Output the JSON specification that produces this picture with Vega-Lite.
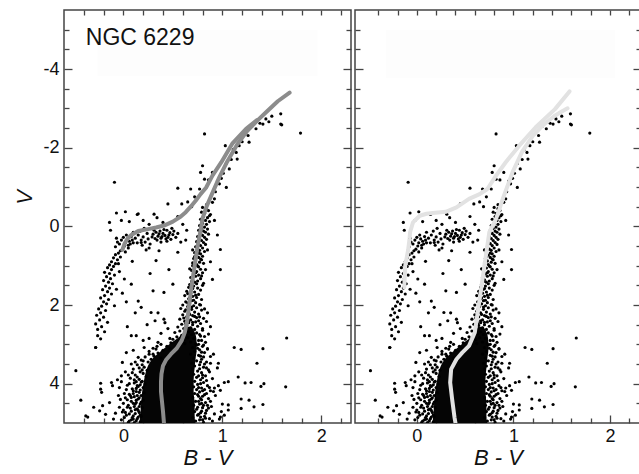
{
"$schema": "https://vega.github.io/schema/vega-lite/v6.json",
"padding": {"left": 12, "top": 8, "right": 0, "bottom": 0},
"background": "white",
"spacing": 0,
"config": {
  "view": {"stroke": "#444", "strokeWidth": 1.5},
  "font": "Liberation Sans",
  "axis": {"grid": false, "domain": false, "tickColor": "#444", "tickWidth": 1.3, "labelFont": "Liberation Sans", "titleFont": "Liberation Sans", "labelColor": "#111", "titleColor": "#111", "titleFontWeight": "normal"}
},
"datasets": {
  "stars": [
    {"c":1.44,"v":-2.73},{"c":1.59,"v":-2.86},{"c":1.6,"v":-2.58},{"c":1.79,"v":-2.37},{"c":0.82,"v":-2.35},{"c":1.34,"v":-2.48},{"c":1.26,"v":-2.31},{"c":1.3,"v":-2.55},{"c":1.38,"v":-2.62},{"c":1.5,"v":-2.8},{"c":1.47,"v":-2.66},{"c":1.17,"v":-2.05},{"c":1.14,"v":-1.88},{"c":1.2,"v":-2.15},{"c":1.11,"v":-1.95},{"c":1.07,"v":-1.46},{"c":1.04,"v":-1.6},{"c":1.09,"v":-1.7},{"c":1.15,"v":-1.71},{"c":1.27,"v":-2.14},{"c":1.03,"v":-2.05},{"c":0.97,"v":-1.08},{"c":0.99,"v":-1.22},{"c":0.95,"v":-1.15},{"c":1.04,"v":-0.99},{"c":0.9,"v":-0.61},{"c":0.87,"v":-0.27},{"c":0.9,"v":-1.37},{"c":0.86,"v":-1.18},{"c":0.8,"v":-1.54},{"c":0.78,"v":-1.37},{"c":0.82,"v":-1.2},{"c":0.77,"v":-0.95},{"c":0.68,"v":-0.95},{"c":0.72,"v":-0.75},{"c":0.55,"v":-0.97},{"c":-0.09,"v":-1.12},{"c":0.45,"v":-0.57},{"c":0.59,"v":-0.57},{"c":0.31,"v":-0.31},{"c":-0.07,"v":-0.34},{"c":0.02,"v":-0.37},{"c":0.14,"v":-0.3},{"c":0.65,"v":-0.62},{"c":0.69,"v":-0.5},{"c":0.93,"v":-0.88},{"c":1.01,"v":-1.35},{"c":0.92,"v":-0.7},{"c":0.84,"v":-0.55},{"c":1.41,"v":-2.6},{"c":1.59,"v":-2.6},
    {"c":0.8,"v":-0.48},{"c":0.84,"v":-0.45},{"c":0.86,"v":-0.4},{"c":0.79,"v":-0.36},{"c":0.82,"v":-0.33},{"c":0.88,"v":-0.3},{"c":0.81,"v":-0.25},{"c":0.85,"v":-0.22},{"c":0.78,"v":-0.18},{"c":0.83,"v":-0.15},{"c":0.87,"v":-0.12},{"c":0.8,"v":-0.08},{"c":0.84,"v":-0.05},{"c":0.77,"v":-0.02},{"c":0.82,"v":0.02},
    {"c":0.79,"v":0.05},{"c":0.85,"v":0.07},{"c":0.76,"v":0.1},{"c":0.81,"v":0.12},{"c":0.83,"v":0.15},{"c":0.78,"v":0.18},{"c":0.86,"v":0.2},{"c":0.8,"v":0.23},{"c":0.75,"v":0.26},{"c":0.82,"v":0.28},{"c":0.77,"v":0.31},{"c":0.84,"v":0.33},{"c":0.79,"v":0.36},{"c":0.74,"v":0.39},{"c":0.81,"v":0.41},{"c":0.76,"v":0.44},{"c":0.83,"v":0.46},{"c":0.78,"v":0.49},{"c":0.73,"v":0.52},
    {"c":0.8,"v":0.55},{"c":0.75,"v":0.58},{"c":0.77,"v":0.61},{"c":0.82,"v":0.64},{"c":0.72,"v":0.67},{"c":0.78,"v":0.7},{"c":0.74,"v":0.73},{"c":0.8,"v":0.76},{"c":0.76,"v":0.79},{"c":0.71,"v":0.82},{"c":0.79,"v":0.85},{"c":0.73,"v":0.88},{"c":0.77,"v":0.91},{"c":0.81,"v":0.94},{"c":0.74,"v":0.97},{"c":0.7,"v":1.0},
    {"c":0.76,"v":1.03},{"c":0.72,"v":1.06},{"c":0.78,"v":1.09},{"c":0.69,"v":1.12},{"c":0.74,"v":1.15},{"c":0.8,"v":1.18},{"c":0.71,"v":1.21},{"c":0.76,"v":1.24},{"c":0.73,"v":1.27},{"c":0.68,"v":1.3},{"c":0.78,"v":1.33},{"c":0.7,"v":1.36},{"c":0.75,"v":1.39},{"c":0.72,"v":1.42},{"c":0.81,"v":1.45},{"c":0.67,"v":1.48},
    {"c":0.95,"v":0.22},{"c":0.92,"v":-0.15},{"c":0.98,"v":1.1},{"c":0.88,"v":0.9},{"c":0.63,"v":0.35},{"c":0.9,"v":1.35},
    {"c":0.7,"v":0.6},{"c":0.76,"v":0.68},{"c":0.72,"v":0.77},{"c":0.78,"v":0.83},{"c":0.7,"v":0.93},{"c":0.75,"v":1.01},{"c":0.67,"v":1.08},{"c":0.73,"v":1.18},{"c":0.79,"v":1.26},{"c":0.69,"v":1.4},{"c":0.74,"v":1.46},{"c":0.7,"v":1.58},{"c":0.65,"v":1.71},{"c":0.73,"v":1.75},{"c":0.67,"v":1.82},{"c":0.71,"v":1.88},{"c":0.65,"v":1.95},{"c":0.69,"v":2.05},{"c":0.63,"v":2.12},{"c":0.67,"v":2.24},{"c":0.72,"v":2.29},{"c":0.61,"v":2.33},{"c":0.66,"v":2.4},{"c":0.7,"v":2.44},{"c":0.63,"v":2.47},{"c":0.76,"v":2.4},{"c":0.78,"v":2.0},{"c":0.8,"v":1.5},{"c":0.83,"v":1.1},{"c":0.85,"v":0.6},
    {"c":0.71,"v":1.52},{"c":0.66,"v":1.55},{"c":0.75,"v":1.57},{"c":0.69,"v":1.6},{"c":0.78,"v":1.62},{"c":0.64,"v":1.65},{"c":0.72,"v":1.67},{"c":0.68,"v":1.7},{"c":0.76,"v":1.73},{"c":0.62,"v":1.76},{"c":0.7,"v":1.78},{"c":0.74,"v":1.81},{"c":0.66,"v":1.84},{"c":0.79,"v":1.86},{"c":0.69,"v":1.89},{"c":0.63,"v":1.92},{"c":0.73,"v":1.94},{"c":0.67,"v":1.97},{"c":0.77,"v":1.99},{"c":0.6,"v":2.0},
    {"c":0.71,"v":2.02},{"c":0.65,"v":2.04},{"c":0.74,"v":2.07},{"c":0.58,"v":2.09},{"c":0.69,"v":2.11},{"c":0.79,"v":2.13},{"c":0.62,"v":2.16},{"c":0.72,"v":2.18},{"c":0.66,"v":2.2},{"c":0.76,"v":2.23},{"c":0.6,"v":2.25},{"c":0.7,"v":2.27},{"c":0.64,"v":2.3},{"c":0.74,"v":2.32},{"c":0.81,"v":2.34},{"c":0.57,"v":2.36},{"c":0.68,"v":2.38},{"c":0.62,"v":2.41},{"c":0.73,"v":2.43},{"c":0.66,"v":2.45},{"c":0.78,"v":2.47},{"c":0.59,"v":2.49},{"c":0.7,"v":2.5},{"c":0.85,"v":2.2},{"c":0.84,"v":2.42},
    {"c":0.64,"v":2.52},{"c":0.75,"v":2.54},{"c":0.55,"v":2.56},{"c":0.68,"v":2.58},{"c":0.61,"v":2.6},{"c":0.72,"v":2.62},{"c":0.8,"v":2.64},{"c":0.57,"v":2.66},{"c":0.66,"v":2.68},{"c":0.52,"v":2.7},{"c":0.74,"v":2.71},{"c":0.63,"v":2.73},{"c":0.69,"v":2.75},{"c":0.59,"v":2.77},{"c":0.78,"v":2.79},{"c":0.54,"v":2.81},{"c":0.65,"v":2.83},{"c":0.71,"v":2.85},{"c":0.5,"v":2.87},{"c":0.61,"v":2.88},{"c":0.76,"v":2.9},{"c":0.56,"v":2.92},{"c":0.68,"v":2.94},{"c":0.83,"v":2.95},{"c":0.48,"v":2.96},{"c":0.62,"v":2.98},{"c":0.73,"v":2.99},{"c":0.86,"v":2.74},{"c":0.88,"v":2.55},{"c":0.82,"v":2.8},{"c":0.45,"v":2.6},{"c":0.42,"v":2.45},{"c":0.38,"v":2.72},{"c":0.47,"v":2.85},{"c":0.35,"v":2.95},
    {"c":0.03,"v":1.92},{"c":0.18,"v":2.06},{"c":0.28,"v":2.19},{"c":0.41,"v":2.36},{"c":0.08,"v":2.78},{"c":0.13,"v":2.78},{"c":0.21,"v":3.08},{"c":0.33,"v":0.87},{"c":0.09,"v":0.89},{"c":0.01,"v":1.34},{"c":0.08,"v":1.47},{"c":0.3,"v":1.64},{"c":0.41,"v":1.68},{"c":0.5,"v":1.47},{"c":0.55,"v":0.66},{"c":0.36,"v":0.62},{"c":0.18,"v":0.41},{"c":0.15,"v":1.9},{"c":0.24,"v":2.5},{"c":0.32,"v":2.4},{"c":0.12,"v":2.2},{"c":0.27,"v":1.2},{"c":0.46,"v":1.1},{"c":0.2,"v":2.9},{"c":0.3,"v":3.1},{"c":0.1,"v":3.15},{"c":0.38,"v":3.0},{"c":0.35,"v":2.2},{"c":0.26,"v":2.85},{"c":0.04,"v":2.55},
    {"c":0.3,"v":0.2},{"c":0.33,"v":0.15},{"c":0.35,"v":0.25},{"c":0.37,"v":0.12},{"c":0.38,"v":0.3},{"c":0.4,"v":0.18},{"c":0.42,"v":0.23},{"c":0.44,"v":0.1},{"c":0.45,"v":0.28},{"c":0.47,"v":0.16},{"c":0.48,"v":0.33},{"c":0.5,"v":0.21},{"c":0.32,"v":0.31},{"c":0.36,"v":0.19},{"c":0.41,"v":0.08},{"c":0.43,"v":0.32},{"c":0.46,"v":0.22},{"c":0.39,"v":0.26},{"c":0.34,"v":0.35},{"c":0.51,"v":0.12},{"c":0.29,"v":0.27},{"c":0.53,"v":0.28},{"c":0.44,"v":0.38},{"c":0.38,"v":0.4},{"c":0.55,"v":0.18},{"c":0.31,"v":0.1},{"c":0.49,"v":0.05},
    {"c":0.12,"v":0.3},{"c":0.15,"v":0.22},{"c":0.18,"v":0.35},{"c":0.2,"v":0.27},{"c":0.22,"v":0.4},{"c":0.25,"v":0.32},{"c":0.27,"v":0.45},{"c":0.14,"v":0.42},{"c":0.24,"v":0.18},{"c":0.19,"v":0.48},{"c":0.26,"v":0.55},{"c":0.1,"v":0.15},{"c":0.17,"v":0.12},{"c":0.23,"v":0.6},{"c":0.21,"v":0.05},
    {"c":-0.02,"v":0.35},{"c":0.0,"v":0.28},{"c":0.02,"v":0.42},{"c":0.04,"v":0.32},{"c":0.06,"v":0.38},{"c":0.08,"v":0.26},{"c":-0.04,"v":0.45},{"c":0.01,"v":0.5},{"c":0.05,"v":0.48},{"c":-0.06,"v":0.4},{"c":0.03,"v":0.22},{"c":0.07,"v":0.45},{"c":-0.01,"v":0.58},{"c":0.09,"v":0.35},{"c":-0.08,"v":0.52},{"c":0.05,"v":0.55},{"c":-0.03,"v":0.62},{"c":0.1,"v":0.42},{"c":0.02,"v":0.65},{"c":-0.07,"v":0.3},
    {"c":0.06,"v":-0.12},{"c":0.2,"v":-0.15},{"c":0.26,"v":-0.05},{"c":0.34,"v":-0.22},{"c":0.4,"v":-0.1},{"c":-0.13,"v":0.1},{"c":-0.14,"v":-0.1},{"c":0.55,"v":-0.25},{"c":0.6,"v":-0.05},{"c":0.64,"v":0.1},{"c":0.58,"v":0.4},{"c":0.15,"v":-0.32},{"c":-0.02,"v":-0.15},
    {"c":-0.05,"v":0.68},{"c":-0.08,"v":0.72},{"c":-0.03,"v":0.78},{"c":-0.1,"v":0.8},{"c":-0.06,"v":0.85},{"c":-0.12,"v":0.9},{"c":-0.08,"v":0.95},{"c":-0.14,"v":0.98},
    {"c":-0.1,"v":1.02},{"c":-0.16,"v":1.05},{"c":-0.12,"v":1.1},{"c":-0.19,"v":1.17},{"c":-0.14,"v":1.2},{"c":-0.09,"v":1.24},{"c":-0.17,"v":1.28},{"c":-0.13,"v":1.33},{"c":-0.2,"v":1.38},{"c":-0.15,"v":1.42},{"c":-0.11,"v":1.46},
    {"c":-0.18,"v":1.52},{"c":-0.14,"v":1.57},{"c":-0.21,"v":1.61},{"c":-0.16,"v":1.66},{"c":-0.12,"v":1.72},{"c":-0.19,"v":1.76},{"c":-0.23,"v":1.82},{"c":-0.15,"v":1.86},{"c":-0.2,"v":1.92},{"c":-0.17,"v":1.97},
    {"c":-0.22,"v":2.03},{"c":-0.25,"v":2.1},{"c":-0.18,"v":2.14},{"c":-0.23,"v":2.2},{"c":-0.27,"v":2.26},{"c":-0.2,"v":2.31},{"c":-0.24,"v":2.38},{"c":-0.16,"v":2.44},{"c":-0.28,"v":2.48},
    {"c":-0.22,"v":2.55},{"c":-0.26,"v":2.62},{"c":-0.19,"v":2.68},{"c":-0.26,"v":2.78},{"c":-0.23,"v":2.86},{"c":-0.28,"v":3.08},
    {"c":-0.04,"v":1.15},{"c":-0.07,"v":1.6},{"c":-0.09,"v":2.02},{"c":-0.05,"v":0.95},{"c":-0.01,"v":1.7},
    {"c":0.22,"v":3.32},{"c":0.18,"v":3.4},{"c":0.25,"v":3.45},{"c":0.14,"v":3.52},{"c":0.21,"v":3.58},{"c":0.1,"v":3.63},{"c":0.24,"v":3.66},{"c":0.17,"v":3.7},
    {"c":0.2,"v":3.74},{"c":0.12,"v":3.78},{"c":0.23,"v":3.82},{"c":0.07,"v":3.86},{"c":0.16,"v":3.89},{"c":0.19,"v":3.94},{"c":0.11,"v":3.98},{"c":0.22,"v":4.01},{"c":0.04,"v":4.04},{"c":0.15,"v":4.07},{"c":0.2,"v":4.1},
    {"c":0.09,"v":4.13},{"c":0.17,"v":4.16},{"c":0.13,"v":4.2},{"c":0.21,"v":4.23},{"c":0.06,"v":4.27},{"c":0.18,"v":4.3},{"c":0.11,"v":4.33},{"c":0.02,"v":4.36},{"c":0.15,"v":4.39},{"c":0.2,"v":4.42},{"c":0.08,"v":4.45},{"c":0.13,"v":4.48},
    {"c":0.17,"v":4.52},{"c":0.05,"v":4.55},{"c":0.11,"v":4.58},{"c":0.19,"v":4.61},{"c":0.14,"v":4.64},{"c":0.0,"v":4.67},{"c":0.08,"v":4.7},{"c":0.16,"v":4.73},{"c":0.12,"v":4.76},{"c":0.03,"v":4.8},{"c":0.18,"v":4.83},{"c":0.09,"v":4.86},{"c":0.14,"v":4.89},{"c":-0.02,"v":4.92},{"c":0.06,"v":4.95},{"c":0.17,"v":4.97},{"c":0.11,"v":4.99},
    {"c":-0.05,"v":4.3},{"c":-0.08,"v":4.75},{"c":-0.02,"v":3.95},{"c":0.0,"v":4.5},{"c":-0.1,"v":4.9},{"c":-0.04,"v":4.6},{"c":0.02,"v":3.7},
    {"c":0.12,"v":3.45},{"c":0.16,"v":3.6},{"c":0.09,"v":3.72},{"c":0.14,"v":3.83},{"c":0.18,"v":3.96},{"c":0.06,"v":4.0},{"c":0.13,"v":4.12},{"c":0.1,"v":4.25},{"c":0.16,"v":4.36},{"c":0.04,"v":4.41},{"c":0.12,"v":4.52},{"c":0.07,"v":4.62},{"c":0.15,"v":4.68},{"c":0.02,"v":4.73},{"c":0.1,"v":4.82},{"c":0.13,"v":4.94},{"c":0.01,"v":4.86},{"c":0.05,"v":4.98},{"c":-0.03,"v":4.4},{"c":0.08,"v":4.35},{"c":0.14,"v":4.05},{"c":0.11,"v":3.9},{"c":0.19,"v":3.52},{"c":0.2,"v":3.42},{"c":0.26,"v":3.18},{"c":0.3,"v":3.25},{"c":0.34,"v":3.05},
    {"c":0.15,"v":3.33},{"c":0.08,"v":3.5},{"c":0.19,"v":3.65},{"c":0.05,"v":3.78},{"c":0.13,"v":3.95},{"c":0.17,"v":4.03},{"c":0.03,"v":4.15},{"c":0.1,"v":4.18},{"c":0.16,"v":4.22},{"c":0.07,"v":4.3},{"c":0.13,"v":4.42},{"c":0.18,"v":4.47},{"c":0.1,"v":4.5},{"c":0.04,"v":4.6},{"c":0.16,"v":4.58},{"c":0.12,"v":4.66},{"c":0.06,"v":4.77},{"c":0.17,"v":4.8},{"c":0.1,"v":4.9},{"c":0.15,"v":4.85},{"c":-0.01,"v":4.72},{"c":0.01,"v":4.25},{"c":0.08,"v":4.92},{"c":0.14,"v":4.3},
    {"c":0.74,"v":3.02},{"c":0.8,"v":3.05},{"c":0.7,"v":3.08},{"c":0.85,"v":3.11},{"c":0.77,"v":3.14},{"c":0.72,"v":3.18},{"c":0.82,"v":3.21},{"c":0.68,"v":3.25},{"c":0.76,"v":3.28},{"c":0.88,"v":3.31},{"c":0.71,"v":3.35},{"c":0.79,"v":3.38},{"c":0.74,"v":3.42},{"c":0.84,"v":3.45},{"c":0.69,"v":3.48},
    {"c":0.77,"v":3.52},{"c":0.72,"v":3.55},{"c":0.81,"v":3.58},{"c":0.7,"v":3.62},{"c":0.86,"v":3.65},{"c":0.75,"v":3.68},{"c":0.79,"v":3.72},{"c":0.71,"v":3.76},{"c":0.83,"v":3.8},{"c":0.74,"v":3.84},{"c":0.9,"v":3.87},{"c":0.78,"v":3.9},{"c":0.72,"v":3.94},{"c":0.81,"v":3.97},
    {"c":0.75,"v":4.02},{"c":0.85,"v":4.05},{"c":0.71,"v":4.08},{"c":0.79,"v":4.11},{"c":0.74,"v":4.15},{"c":0.88,"v":4.18},{"c":0.77,"v":4.21},{"c":0.72,"v":4.25},{"c":0.82,"v":4.28},{"c":0.76,"v":4.32},{"c":0.7,"v":4.35},{"c":0.86,"v":4.38},{"c":0.79,"v":4.41},{"c":0.73,"v":4.45},{"c":0.83,"v":4.48},
    {"c":0.77,"v":4.52},{"c":0.71,"v":4.55},{"c":0.89,"v":4.58},{"c":0.8,"v":4.61},{"c":0.74,"v":4.65},{"c":0.84,"v":4.68},{"c":0.72,"v":4.71},{"c":0.78,"v":4.74},{"c":0.92,"v":4.77},{"c":0.75,"v":4.8},{"c":0.82,"v":4.83},{"c":0.7,"v":4.86},{"c":0.87,"v":4.89},{"c":0.77,"v":4.92},{"c":0.73,"v":4.95},{"c":0.81,"v":4.98},
    {"c":0.76,"v":3.0},{"c":0.79,"v":3.2},{"c":0.81,"v":3.32},{"c":0.77,"v":3.62},{"c":0.8,"v":3.78},{"c":0.84,"v":3.92},{"c":0.78,"v":4.0},{"c":0.8,"v":4.18},{"c":0.84,"v":4.25},{"c":0.78,"v":4.38},{"c":0.81,"v":4.55},{"c":0.86,"v":4.62},{"c":0.79,"v":4.7},{"c":0.83,"v":4.88},{"c":0.9,"v":4.95},{"c":0.78,"v":4.85},{"c":0.88,"v":4.45},{"c":0.91,"v":4.2},{"c":0.87,"v":3.7},{"c":0.82,"v":3.5},{"c":0.79,"v":2.9},{"c":0.8,"v":2.6},{"c":0.77,"v":2.3},{"c":0.82,"v":2.1},
    {"c":0.75,"v":3.1},{"c":0.78,"v":3.45},{"c":0.76,"v":3.8},{"c":0.8,"v":3.85},{"c":0.76,"v":4.1},{"c":0.82,"v":4.15},{"c":0.75,"v":4.28},{"c":0.8,"v":4.32},{"c":0.76,"v":4.45},{"c":0.79,"v":4.5},{"c":0.75,"v":4.6},{"c":0.83,"v":4.75},{"c":0.76,"v":4.78},{"c":0.8,"v":4.92},{"c":0.85,"v":4.55},{"c":0.87,"v":4.1},{"c":0.84,"v":3.6},{"c":0.78,"v":3.3},{"c":0.81,"v":3.02},{"c":0.77,"v":2.75},
    {"c":0.95,"v":3.6},{"c":0.93,"v":4.3},{"c":0.98,"v":4.85},{"c":0.91,"v":3.25},{"c":0.96,"v":4.05},
    {"c":0.4,"v":3.15},{"c":0.35,"v":3.22},{"c":0.44,"v":3.05},{"c":0.31,"v":3.3},{"c":0.38,"v":3.35},{"c":0.28,"v":3.38},{"c":0.47,"v":3.1},{"c":0.33,"v":3.12},{"c":0.26,"v":3.25},
    {"c":1.65,"v":2.84},{"c":1.12,"v":3.08},{"c":1.19,"v":3.13},{"c":1.41,"v":3.11},{"c":0.88,"v":3.48},{"c":0.96,"v":3.48},{"c":1.35,"v":3.48},{"c":1.16,"v":3.83},{"c":1.02,"v":3.97},{"c":1.06,"v":3.95},{"c":1.23,"v":3.98},{"c":1.42,"v":4.0},{"c":1.29,"v":3.97},{"c":1.39,"v":4.07},{"c":1.64,"v":4.08},{"c":1.27,"v":4.42},{"c":1.41,"v":4.53},{"c":1.32,"v":4.59},{"c":1.19,"v":4.63},{"c":1.19,"v":4.39},{"c":0.98,"v":4.17},{"c":0.92,"v":4.11},{"c":1.0,"v":4.52},{"c":1.06,"v":4.54},{"c":1.06,"v":4.67},{"c":0.99,"v":4.71},{"c":0.97,"v":4.9},{"c":1.02,"v":4.8},
    {"c":-0.48,"v":3.67},{"c":-0.43,"v":4.42},{"c":-0.38,"v":4.82},{"c":-0.28,"v":3.08},{"c":-0.23,"v":4.14},{"c":-0.21,"v":4.56},{"c":-0.14,"v":4.48},{"c":-0.11,"v":4.05},{"c":-0.02,"v":3.8},{"c":-0.23,"v":3.99},{"c":-0.22,"v":4.22},{"c":-0.24,"v":4.69},{"c":-0.12,"v":3.97},{"c":-0.04,"v":4.1},{"c":-0.06,"v":3.9},{"c":0.03,"v":3.21},{"c":-0.01,"v":3.46},{"c":-0.36,"v":4.85},{"c":-0.18,"v":4.78},{"c":-0.3,"v":4.6},{"c":0.85,"v":3.12},{"c":0.98,"v":0.59}
  ],
  "core": [
    {"v":2.55,"lo":0.63,"hi":0.69},{"v":2.75,"lo":0.59,"hi":0.73},{"v":2.95,"lo":0.49,"hi":0.74},{"v":3.15,"lo":0.39,"hi":0.74},{"v":3.35,"lo":0.3,"hi":0.73},{"v":3.6,"lo":0.24,"hi":0.72},{"v":3.9,"lo":0.21,"hi":0.71},{"v":4.2,"lo":0.19,"hi":0.71},{"v":4.5,"lo":0.18,"hi":0.72},{"v":4.8,"lo":0.17,"hi":0.72},{"v":5.05,"lo":0.16,"hi":0.73}
  ],
  "isoL1": [
    {"i":1,"c":0.41,"v":5.0},{"i":2,"c":0.4,"v":4.7},{"i":3,"c":0.39,"v":4.45},{"i":4,"c":0.38,"v":4.2},{"i":5,"c":0.38,"v":3.95},{"i":6,"c":0.385,"v":3.75},{"i":7,"c":0.4,"v":3.55},{"i":8,"c":0.43,"v":3.4},{"i":9,"c":0.48,"v":3.25},{"i":10,"c":0.54,"v":3.1},{"i":11,"c":0.59,"v":2.9},{"i":12,"c":0.62,"v":2.7},{"i":13,"c":0.645,"v":2.4},{"i":14,"c":0.665,"v":2.0},{"i":15,"c":0.69,"v":1.5},{"i":16,"c":0.72,"v":1.0},{"i":17,"c":0.75,"v":0.5},{"i":18,"c":0.78,"v":0.1},{"i":19,"c":0.8,"v":-0.2},{"i":20,"c":0.84,"v":-0.5},{"i":21,"c":0.9,"v":-0.85},{"i":22,"c":0.97,"v":-1.25},{"i":23,"c":1.05,"v":-1.65},{"i":24,"c":1.15,"v":-2.08},{"i":25,"c":1.25,"v":-2.42},{"i":26,"c":1.35,"v":-2.68},{"i":27,"c":1.45,"v":-2.92},{"i":28,"c":1.56,"v":-3.18},{"i":29,"c":1.68,"v":-3.4}
  ],
  "isoL2": [
    {"i":1,"c":-0.01,"v":0.6},{"i":2,"c":0.01,"v":0.45},{"i":3,"c":0.04,"v":0.32},{"i":4,"c":0.08,"v":0.22},{"i":5,"c":0.15,"v":0.12},{"i":6,"c":0.25,"v":0.07},{"i":7,"c":0.33,"v":0.03},{"i":8,"c":0.41,"v":-0.02},{"i":9,"c":0.5,"v":-0.12},{"i":10,"c":0.58,"v":-0.25},{"i":11,"c":0.63,"v":-0.36},{"i":12,"c":0.68,"v":-0.5},{"i":13,"c":0.73,"v":-0.65},{"i":14,"c":0.78,"v":-0.82},{"i":15,"c":0.835,"v":-0.98},{"i":16,"c":0.9,"v":-1.29},{"i":17,"c":0.99,"v":-1.63},{"i":18,"c":1.1,"v":-2.1},{"i":19,"c":1.24,"v":-2.48},{"i":20,"c":1.35,"v":-2.7}
  ],
  "isoR1": [
    {"i":1,"c":0.4,"v":5.0},{"i":2,"c":0.39,"v":4.86},{"i":3,"c":0.365,"v":4.39},{"i":4,"c":0.345,"v":3.97},{"i":5,"c":0.355,"v":3.63},{"i":6,"c":0.41,"v":3.38},{"i":7,"c":0.47,"v":3.21},{"i":8,"c":0.54,"v":3.04},{"i":9,"c":0.6,"v":2.7},{"i":10,"c":0.65,"v":1.85},{"i":11,"c":0.7,"v":1.0},{"i":12,"c":0.75,"v":0.15},{"i":13,"c":0.82,"v":-0.19},{"i":14,"c":0.89,"v":-0.7},{"i":15,"c":0.99,"v":-1.37},{"i":16,"c":1.09,"v":-1.9},{"i":17,"c":1.2,"v":-2.3},{"i":18,"c":1.3,"v":-2.56},{"i":19,"c":1.42,"v":-2.8},{"i":20,"c":1.5,"v":-2.92},{"i":21,"c":1.56,"v":-3.0}
  ],
  "isoR2": [
    {"i":1,"c":-0.13,"v":1.55},{"i":2,"c":-0.12,"v":1.0},{"i":3,"c":-0.09,"v":0.6},{"i":4,"c":-0.075,"v":0.3},{"i":5,"c":-0.07,"v":0.15},{"i":6,"c":-0.04,"v":-0.1},{"i":7,"c":0.03,"v":-0.27},{"i":8,"c":0.1,"v":-0.32},{"i":9,"c":0.165,"v":-0.34},{"i":10,"c":0.3,"v":-0.37},{"i":11,"c":0.41,"v":-0.48},{"i":12,"c":0.54,"v":-0.7},{"i":13,"c":0.65,"v":-0.82},{"i":14,"c":0.73,"v":-0.95},{"i":15,"c":0.82,"v":-1.29},{"i":16,"c":0.92,"v":-1.63},{"i":17,"c":1.06,"v":-2.05},{"i":18,"c":1.23,"v":-2.52},{"i":19,"c":1.43,"v":-2.98},{"i":20,"c":1.58,"v":-3.43}
  ],
  "bgL": [{"c":-0.26,"c2":1.96,"v":-4.99,"v2":-3.82}],
  "bgR": [{"c":-0.32,"c2":2.05,"v":-4.99,"v2":-3.78}],
  "lab": [{"c":-0.38,"v":-4.61,"t":"NGC 6229"}]
},
"hconcat": [
  {
    "width": 287, "height": 413,
    "resolve": {"axis": {"x": "independent", "y": "independent"}},
    "layer": [
      {"data": {"name": "bgL"}, "mark": {"type": "rect", "fill": "#fdfdfd"},
       "encoding": {
         "x": {"field": "c", "type": "quantitative", "scale": {"domain": [-0.6, 2.3], "nice": false, "zero": false}, "axis": {"orient": "top", "values": [-0.4,-0.2,0,0.2,0.4,0.6,0.8,1,1.2,1.4,1.6,1.8,2,2.2], "tickSize": -5, "labels": false, "title": null}},
         "x2": {"field": "c2"},
         "y": {"field": "v", "type": "quantitative", "scale": {"domain": [-5.5, 5], "reverse": true, "nice": false, "zero": false}, "axis": {"orient": "right", "values": [-5,-4.5,-3.5,-3,-2.5,-1.5,-1,-0.5,0.5,1,1.5,2.5,3,3.5,4.5], "tickSize": -5, "labels": false, "title": null}},
         "y2": {"field": "v2"}}},
      {"data": {"name": "core"}, "mark": {"type": "area", "orient": "horizontal", "interpolate": "monotone", "color": "#050505", "opacity": 1, "clip": true},
       "encoding": {
         "y": {"field": "v", "type": "quantitative", "scale": {"domain": [-5.5, 5], "reverse": true, "nice": false, "zero": false}, "axis": {"orient": "left", "values": [-4,-2,0,2,4], "tickSize": -8, "labels": false, "title": null}},
         "x": {"field": "lo", "type": "quantitative", "scale": {"domain": [-0.6, 2.3], "nice": false, "zero": false}, "axis": {"orient": "bottom", "values": [0,1,2], "tickSize": -8, "labels": false, "title": null}},
         "x2": {"field": "hi"}}},
      {"data": {"name": "stars"}, "mark": {"type": "circle", "size": 10, "color": "#000", "opacity": 1, "clip": true},
       "encoding": {
         "x": {"field": "c", "type": "quantitative", "scale": {"domain": [-0.6, 2.3], "nice": false, "zero": false}, "axis": {"orient": "bottom", "values": [0,1,2], "ticks": false, "labelFontSize": 18, "labelPadding": 4, "labelExpr": "'' + datum.value", "title": "B - V", "titleFontSize": 22, "titleFontStyle": "italic", "titlePadding": 2}},
         "y": {"field": "v", "type": "quantitative", "scale": {"domain": [-5.5, 5], "reverse": true, "nice": false, "zero": false}, "axis": {"orient": "left", "values": [-4,-2,0,2,4], "ticks": false, "labelFontSize": 18, "labelPadding": 5, "labelExpr": "'' + datum.value", "title": "V", "titleFontSize": 22, "titleFontStyle": "italic", "titleAngle": 270, "titleX": -33, "titleY": 187, "titleAlign": "center", "titleBaseline": "alphabetic"}}}},
      {"data": {"name": "isoL1"}, "mark": {"type": "line", "color": "#8c8c8c", "strokeWidth": 4, "strokeCap": "round", "strokeJoin": "round", "clip": true},
       "encoding": {
         "x": {"field": "c", "type": "quantitative", "scale": {"domain": [-0.6, 2.3], "nice": false, "zero": false}, "axis": {"orient": "bottom", "values": [-0.4,-0.2,0.2,0.4,0.6,0.8,1.2,1.4,1.6,1.8,2.2], "tickSize": -5, "labels": false, "title": null}},
         "y": {"field": "v", "type": "quantitative", "scale": {"domain": [-5.5, 5], "reverse": true, "nice": false, "zero": false}, "axis": {"orient": "left", "values": [-5,-4.5,-3.5,-3,-2.5,-1.5,-1,-0.5,0.5,1,1.5,2.5,3,3.5,4.5], "tickSize": -5, "labels": false, "title": null}},
         "order": {"field": "i", "type": "quantitative"}}},
      {"data": {"name": "isoL2"}, "mark": {"type": "line", "color": "#8c8c8c", "strokeWidth": 4, "strokeCap": "round", "strokeJoin": "round", "clip": true},
       "encoding": {
         "x": {"field": "c", "type": "quantitative", "scale": {"domain": [-0.6, 2.3], "nice": false, "zero": false}, "axis": null},
         "y": {"field": "v", "type": "quantitative", "scale": {"domain": [-5.5, 5], "reverse": true, "nice": false, "zero": false}, "axis": {"orient": "right", "values": [-4,-2,0,2,4], "tickSize": -8, "labels": false, "title": null}},
         "order": {"field": "i", "type": "quantitative"}}},
      {"data": {"name": "lab"}, "mark": {"type": "text", "align": "left", "baseline": "alphabetic", "fontSize": 23, "font": "Liberation Sans", "color": "#111"},
       "encoding": {
         "x": {"field": "c", "type": "quantitative", "scale": {"domain": [-0.6, 2.3], "nice": false, "zero": false}, "axis": null},
         "y": {"field": "v", "type": "quantitative", "scale": {"domain": [-5.5, 5], "reverse": true, "nice": false, "zero": false}, "axis": null},
         "text": {"field": "t"}}}
    ]
  },
  {
    "width": 286, "height": 413,
    "resolve": {"axis": {"x": "independent", "y": "independent"}},
    "layer": [
      {"data": {"name": "bgR"}, "mark": {"type": "rect", "fill": "#fdfdfd"},
       "encoding": {
         "x": {"field": "c", "type": "quantitative", "scale": {"domain": [-0.64, 2.32], "nice": false, "zero": false}, "axis": {"orient": "top", "values": [-0.4,-0.2,0,0.2,0.4,0.6,0.8,1,1.2,1.4,1.6,1.8,2,2.2], "tickSize": -5, "labels": false, "title": null}},
         "x2": {"field": "c2"},
         "y": {"field": "v", "type": "quantitative", "scale": {"domain": [-5.5, 5], "reverse": true, "nice": false, "zero": false}, "axis": {"orient": "right", "values": [-5,-4.5,-3.5,-3,-2.5,-1.5,-1,-0.5,0.5,1,1.5,2.5,3,3.5,4.5], "tickSize": -5, "labels": false, "title": null}},
         "y2": {"field": "v2"}}},
      {"data": {"name": "core"}, "mark": {"type": "area", "orient": "horizontal", "interpolate": "monotone", "color": "#050505", "opacity": 1, "clip": true},
       "encoding": {
         "y": {"field": "v", "type": "quantitative", "scale": {"domain": [-5.5, 5], "reverse": true, "nice": false, "zero": false}, "axis": {"orient": "left", "values": [-4,-2,0,2,4], "tickSize": -8, "labels": false, "title": null}},
         "x": {"field": "lo", "type": "quantitative", "scale": {"domain": [-0.64, 2.32], "nice": false, "zero": false}, "axis": {"orient": "bottom", "values": [0,1,2], "tickSize": -8, "labels": false, "title": null}},
         "x2": {"field": "hi"}}},
      {"data": {"name": "stars"}, "mark": {"type": "circle", "size": 10, "color": "#000", "opacity": 1, "clip": true},
       "encoding": {
         "x": {"field": "c", "type": "quantitative", "scale": {"domain": [-0.64, 2.32], "nice": false, "zero": false}, "axis": {"orient": "bottom", "values": [0,1,2], "ticks": false, "labelFontSize": 18, "labelPadding": 4, "labelExpr": "'' + datum.value", "title": "B - V", "titleFontSize": 22, "titleFontStyle": "italic", "titlePadding": 2}},
         "y": {"field": "v", "type": "quantitative", "scale": {"domain": [-5.5, 5], "reverse": true, "nice": false, "zero": false}, "axis": null}}},
      {"data": {"name": "isoR1"}, "mark": {"type": "line", "color": "#e2e2e2", "strokeWidth": 4, "strokeCap": "round", "strokeJoin": "round", "clip": true},
       "encoding": {
         "x": {"field": "c", "type": "quantitative", "scale": {"domain": [-0.64, 2.32], "nice": false, "zero": false}, "axis": {"orient": "bottom", "values": [-0.4,-0.2,0.2,0.4,0.6,0.8,1.2,1.4,1.6,1.8,2.2], "tickSize": -5, "labels": false, "title": null}},
         "y": {"field": "v", "type": "quantitative", "scale": {"domain": [-5.5, 5], "reverse": true, "nice": false, "zero": false}, "axis": {"orient": "left", "values": [-5,-4.5,-3.5,-3,-2.5,-1.5,-1,-0.5,0.5,1,1.5,2.5,3,3.5,4.5], "tickSize": -5, "labels": false, "title": null}},
         "order": {"field": "i", "type": "quantitative"}}},
      {"data": {"name": "isoR2"}, "mark": {"type": "line", "color": "#e2e2e2", "strokeWidth": 4, "strokeCap": "round", "strokeJoin": "round", "clip": true},
       "encoding": {
         "x": {"field": "c", "type": "quantitative", "scale": {"domain": [-0.64, 2.32], "nice": false, "zero": false}, "axis": null},
         "y": {"field": "v", "type": "quantitative", "scale": {"domain": [-5.5, 5], "reverse": true, "nice": false, "zero": false}, "axis": {"orient": "right", "values": [-4,-2,0,2,4], "tickSize": -8, "labels": false, "title": null}},
         "order": {"field": "i", "type": "quantitative"}}}
    ]
  }
]
}
